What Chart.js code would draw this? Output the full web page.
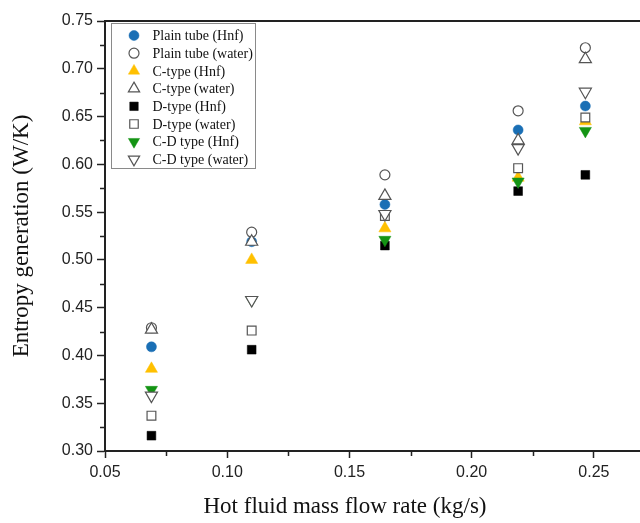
<!DOCTYPE html>
<html>
<head>
<meta charset="utf-8">
<title>Entropy generation</title>
<script src="https://cdn.jsdelivr.net/npm/chart.js@4.4.1/dist/chart.umd.min.js"></script>
<style>
    html, body { margin: 0; padding: 0; background: #fff; overflow: hidden; width: 640px; height: 523px; }
    /* a little wider than the window: the plot frame runs off the right edge like the original */
    #wrap { position: relative; width: 651px; height: 523px; }
</style>
</head>
<body>
<div id="wrap"><canvas id="chart"></canvas></div>
<script>
// hot fluid mass flow rate (kg/s)
let flowRates = [0.069, 0.110, 0.1645, 0.219, 0.2465];

// entropy generation (W/K) for each configuration
let plainHnf = [0.409, 0.519, 0.558, 0.636, 0.661];
let plainWater = [0.429, 0.529, 0.589, 0.656, 0.722];
let cHnf = [0.386, 0.500, 0.533, 0.586, 0.645];
let cWater = [0.427, 0.519, 0.567, 0.625, 0.710];
let dHnf = [0.316, 0.406, 0.515, 0.572, 0.589];
let dWater = [0.337, 0.426, 0.546, 0.596, 0.649];
let cdHnf = [0.364, 0.458, 0.521, 0.582, 0.635];
let cdWater = [0.358, 0.458, 0.548, 0.617, 0.676];

let seriesNames = ["Plain tube (Hnf)", "Plain tube (water)", "C-type (Hnf)", "C-type (water)",
    "D-type (Hnf)", "D-type (water)", "C-D type (Hnf)", "C-D type (water)"];
let seriesValues = [plainHnf, plainWater, cHnf, cWater, dHnf, dWater, cdHnf, cdWater];

let xTitle = "Hot fluid mass flow rate (kg/s)";
let yTitle = "Entropy generation (W/K)";

const HOLLOW = "#555555";
// marker look for each series, same order as the names
let markers = [
    {style: "circle", radius: 5, rotation: 0, fill: "#1a6fb5", line: "#1a6fb5"},
    {style: "circle", radius: 5, rotation: 0, fill: "#ffffff", line: HOLLOW},
    {style: "triangle", radius: 7, rotation: 0, fill: "#ffc000", line: "#ffc000"},
    {style: "triangle", radius: 7, rotation: 0, fill: "#ffffff", line: HOLLOW},
    {style: "rect", radius: 6.2, rotation: 0, fill: "#000000", line: "#000000"},
    {style: "rect", radius: 6.2, rotation: 0, fill: "#ffffff", line: HOLLOW},
    {style: "triangle", radius: 7, rotation: 180, fill: "#149414", line: "#149414"},
    {style: "triangle", radius: 7, rotation: 180, fill: "#ffffff", line: HOLLOW}
];

function isMajor(v) {
    return Math.round(v * 1000) % 50 === 0;
}

let datasets = [];
for (let i = 0; i < seriesNames.length; i++) {
    let m = markers[i];
    datasets.push({
        label: seriesNames[i],
        data: flowRates.map((x, k) => ({x: x, y: seriesValues[i][k]})),
        pointStyle: m.style,
        pointRadius: m.radius,
        pointRotation: m.rotation,
        backgroundColor: m.fill,
        borderColor: m.line,
        borderWidth: m.fill === "#ffffff" ? 1.2 : 0.5,
        // later series are painted on top
        order: seriesNames.length - i
    });
}

// short minor ticks, top frame line and the x title
let extrasPlugin = {
    id: "extras",
    afterDraw(chart) {
        let ctx = chart.ctx;
        let area = chart.chartArea;
        let xs = chart.scales.x;
        let ys = chart.scales.y;
        ctx.save();
        ctx.strokeStyle = "#222";
        ctx.lineWidth = 1.5;
        ctx.beginPath();
        for (let t of ys.ticks) {
            if (!isMajor(t.value)) {
                let py = Math.round(ys.getPixelForValue(t.value)) + 0.5;
                ctx.moveTo(area.left - 5, py);
                ctx.lineTo(area.left, py);
            }
        }
        for (let t of xs.ticks) {
            if (!isMajor(t.value)) {
                let px = Math.round(xs.getPixelForValue(t.value)) + 0.5;
                ctx.moveTo(px, area.bottom);
                ctx.lineTo(px, area.bottom + 5);
            }
        }
        ctx.stroke();

        ctx.lineWidth = 2;
        ctx.beginPath();
        ctx.moveTo(area.left - 1, area.top);
        ctx.lineTo(chart.width, area.top);
        ctx.stroke();

        ctx.fillStyle = "#111";
        ctx.font = "23px 'Liberation Serif', 'Times New Roman', serif";
        ctx.textAlign = "center";
        ctx.textBaseline = "alphabetic";
        ctx.fillText(xTitle, 345, 513);
        ctx.restore();
    }
};

// boxed legend sitting inside the plot
let legendPlugin = {
    id: "boxLegend",
    afterDatasetsDraw(chart) {
        let ctx = chart.ctx;
        let left = 111, top = 23, right = 255, bottom = 168;
        let rowStart = 35.5, rowGap = 17.7;
        ctx.save();
        ctx.fillStyle = "#fff";
        ctx.fillRect(left, top, right - left, bottom - top);
        ctx.strokeStyle = "#8a8a8a";
        ctx.lineWidth = 1;
        ctx.strokeRect(left + 0.5, top + 0.5, right - left, bottom - top);

        ctx.font = "14px 'Liberation Serif', 'Times New Roman', serif";
        ctx.textAlign = "left";
        ctx.textBaseline = "middle";
        for (let i = 0; i < seriesNames.length; i++) {
            let m = markers[i];
            let y = rowStart + i * rowGap;
            ctx.fillStyle = m.fill;
            ctx.strokeStyle = m.line;
            ctx.lineWidth = m.fill === "#ffffff" ? 1.2 : 0.5;
            Chart.helpers.drawPoint(ctx, {
                pointStyle: m.style,
                radius: m.style === "circle" ? 5 : (m.style === "rect" ? 6 : 6.5),
                rotation: m.rotation,
                borderWidth: ctx.lineWidth
            }, 134, y);
            ctx.fillStyle = "#111";
            ctx.fillText(seriesNames[i], 152.5, y + 1);
        }
        ctx.restore();
    }
};

let tickFont = {family: "'Liberation Sans', Arial, sans-serif", size: 16};

new Chart("chart", {
    type: "scatter",
    data: {datasets: datasets},
    plugins: [extrasPlugin, legendPlugin],
    options: {
        responsive: true,
        maintainAspectRatio: false,
        animation: false,
        events: [],
        layout: {padding: {top: 21, right: 0, left: 0, bottom: 0}},
        plugins: {
            legend: {display: false},
            tooltip: {enabled: false}
        },
        scales: {
            x: {
                type: "linear",
                min: 0.05,
                max: 0.27,
                afterFit(scale) {
                    scale.height = 72;
                    scale.paddingLeft = 0;
                    scale.paddingRight = 0;
                },
                ticks: {
                    stepSize: 0.025,
                    includeBounds: false,
                    autoSkip: false,
                    maxRotation: 0,
                    padding: 5,
                    color: "#222",
                    font: tickFont,
                    callback: v => isMajor(v) ? v.toFixed(2) : ""
                },
                grid: {
                    drawOnChartArea: false,
                    drawTicks: true,
                    tickLength: 7,
                    tickWidth: 1.5,
                    tickColor: c => isMajor(c.tick.value) ? "#222" : "rgba(0,0,0,0)"
                },
                border: {display: true, color: "#222", width: 2}
            },
            y: {
                type: "linear",
                min: 0.30,
                max: 0.75,
                afterFit(scale) { scale.width = 105; },
                ticks: {
                    stepSize: 0.025,
                    autoSkip: false,
                    padding: 4,
                    color: "#222",
                    font: tickFont,
                    callback: v => isMajor(v) ? v.toFixed(2) : ""
                },
                grid: {
                    drawOnChartArea: false,
                    drawTicks: true,
                    tickLength: 8,
                    tickWidth: 1.5,
                    tickColor: c => isMajor(c.tick.value) ? "#222" : "rgba(0,0,0,0)"
                },
                border: {display: true, color: "#222", width: 2},
                title: {
                    display: true,
                    text: yTitle,
                    color: "#111",
                    padding: {top: 8, bottom: 0},
                    font: {family: "'Liberation Serif', 'Times New Roman', serif", size: 23, weight: "normal"}
                }
            }
        }
    }
});
</script>
</body>
</html>
